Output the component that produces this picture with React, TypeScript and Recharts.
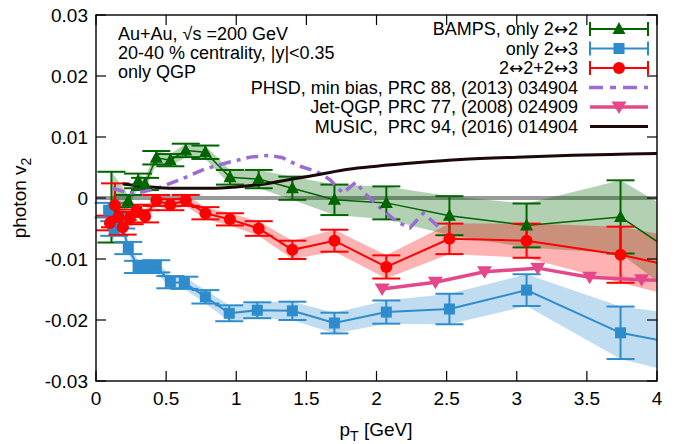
import {
  Area,
  ComposedChart,
  ErrorBar,
  Line,
  ReferenceArea,
  ReferenceLine,
  XAxis,
  YAxis,
} from "recharts";

const W = 698;
const H = 444;
const LEFT = 96;
const RIGHT = 657;
const TOP = 15;
const BOTTOM = 381;
const FONT = "'Liberation Sans', Arial, Helvetica, sans-serif";
const ARROW_FONT = "'DejaVu Sans', sans-serif";

const xTicks = [0, 0.5, 1, 1.5, 2, 2.5, 3, 3.5, 4];
const xTickLabels = ["0", "0.5", "1", "1.5", "2", "2.5", "3", "3.5", "4"];
const yTicks = [-0.03, -0.02, -0.01, 0, 0.01, 0.02, 0.03];
const yTickLabels = ["-0.03", "-0.02", "-0.01", "0", "0.01", "0.02", "0.03"];

// BAMPS, only 2<->2
const bampsPt = [0.11, 0.23, 0.3, 0.35, 0.43, 0.53, 0.64, 0.78, 0.955, 1.16, 1.4, 1.7, 2.07, 2.52, 3.07, 3.74, 4.25];
const bampsV2 = [-0.0015, -0.0005, 0.0028, 0.0023, 0.0066, 0.0062, 0.0078, 0.0075, 0.0034, 0.0031, 0.0016, -0.0003, -0.0008, -0.0029, -0.0045, -0.0031, -0.011];
const bampsErr = [0.0058, 0.001, 0.0012, 0.001, 0.0011, 0.001, 0.0011, 0.0011, 0.0012, 0.0015, 0.0019, 0.0025, 0.0027, 0.0032, 0.0036, 0.006, 0.007];

// only 2<->3
const only23Pt = [0.09, 0.13, 0.18, 0.23, 0.3, 0.36, 0.43, 0.53, 0.63, 0.78, 0.95, 1.15, 1.4, 1.7, 2.07, 2.52, 3.07, 3.74, 4.25];
const only23V2 = [-0.002, -0.005, -0.0038, -0.0082, -0.0113, -0.0113, -0.0112, -0.0138, -0.0139, -0.0162, -0.0189, -0.0184, -0.0185, -0.0205, -0.0187, -0.0182, -0.0151, -0.0221, -0.0243];
const only23Err = [0.0012, 0.0012, 0.0012, 0.001, 0.001, 0.001, 0.001, 0.001, 0.001, 0.0011, 0.0013, 0.0013, 0.0015, 0.0017, 0.0019, 0.0025, 0.0026, 0.0043, 0.005];

// 2<->2 + 2<->3
const allPt = [0.1, 0.135, 0.16, 0.19, 0.24, 0.29, 0.35, 0.43, 0.53, 0.64, 0.78, 0.955, 1.16, 1.4, 1.7, 2.07, 2.52, 3.07, 3.74, 4.25];
const allV2 = [-0.0041, -0.0012, -0.0031, -0.0048, -0.0033, -0.0021, -0.003, -0.0004, -0.0011, -0.0004, -0.0025, -0.0035, -0.005, -0.0085, -0.007, -0.0113, -0.0067, -0.007, -0.0093, -0.0119];
const allErr = [0.0012, 0.0036, 0.0012, 0.0012, 0.001, 0.001, 0.001, 0.0009, 0.0009, 0.0009, 0.001, 0.001, 0.0012, 0.0015, 0.0018, 0.0019, 0.0025, 0.0028, 0.0046, 0.005];

// PHSD, min bias
const phsdPt = [0.12, 0.23, 0.33, 0.44, 0.6, 0.78, 0.955, 1.1, 1.24, 1.33, 1.455, 1.576, 1.668, 1.761, 1.854, 1.918, 2.025, 2.146, 2.239, 2.332, 2.403, 2.453];
const phsdV2 = [0.0016, 0.0008, 0.001, 0.0016, 0.003, 0.0048, 0.0059, 0.0067, 0.007, 0.0066, 0.0052, 0.0043, 0.003, 0.0008, 0.0026, 0.0007, -0.0016, -0.0039, -0.0049, -0.0025, -0.0039, -0.005];

// Jet-QGP
const jetPt = [2.04, 2.42, 2.77, 3.15, 3.52, 3.89, 4.26];
const jetV2 = [-0.0149, -0.0138, -0.0121, -0.0115, -0.013, -0.0134, -0.0137];

// MUSIC
const musicPt = [0.19, 0.3, 0.45, 0.6, 0.8, 1.0, 1.2, 1.4, 1.6, 1.8, 2.0, 2.3, 2.6, 3.0, 3.4, 3.8, 4.0];
const musicV2 = [0.0023, 0.002, 0.0017, 0.0016, 0.0016, 0.0018, 0.0023, 0.0031, 0.0039, 0.0047, 0.0052, 0.0058, 0.0063, 0.0067, 0.007, 0.0072, 0.0073];

const GREEN = "#006400";
const BLUE = "#2f8ccc";
const RED = "#ff0000";
const PINK = "#e4488a";
const PURPLE = "#9b6bd6";
const DARK = "#1c0808";

// band = value +- error; error bars only drawn for points inside the x range
const withErr = (pt: number[], v2: number[], err: number[]) =>
  pt.map((x, i) => ({
    x,
    y: v2[i],
    bar: x <= 4 ? err[i] : null,
    band: [v2[i] - err[i], v2[i] + err[i]],
  }));
const plain = (pt: number[], v2: number[]) => pt.map((x, i) => ({ x, y: v2[i] }));

const bampsData = withErr(bampsPt, bampsV2, bampsErr);
const only23Data = withErr(only23Pt, only23V2, only23Err);
const allData = withErr(allPt, allV2, allErr);
const phsdData = plain(phsdPt, phsdV2);
const jetData = plain(jetPt, jetV2);
const musicData = plain(musicPt, musicV2);

type Kind = "tri" | "square" | "circle" | "down";

function Marker({ kind, cx, cy, color }: { kind: Kind; cx: number; cy: number; color: string }) {
  if (kind === "tri")
    return <polygon points={`${cx},${cy - 7} ${cx - 6.5},${cy + 5} ${cx + 6.5},${cy + 5}`} fill={color} stroke="none" />;
  if (kind === "square") return <rect x={cx - 5.5} y={cy - 5.5} width={11} height={11} fill={color} stroke="none" />;
  if (kind === "circle") return <circle cx={cx} cy={cy} r={6} fill={color} stroke="none" />;
  return <polygon points={`${cx - 7.5},${cy - 5.5} ${cx + 7.5},${cy - 5.5} ${cx},${cy + 7}`} fill={color} stroke="none" />;
}

const makeDot = (kind: Kind, color: string) => (p: any) => {
  const { cx, cy, index } = p;
  if (cx == null || cy == null) return <g key={`${kind}-${index}`} />;
  return (
    <g key={`${kind}-${index}`}>
      <Marker kind={kind} cx={cx} cy={cy} color={color} />
    </g>
  );
};

function YTick(props: any) {
  const { y, index } = props;
  return (
    <g>
      <line x1={LEFT} x2={LEFT + 10} y1={y} y2={y} stroke="#000" strokeWidth={1.2} />
      <line x1={RIGHT - 10} x2={RIGHT} y1={y} y2={y} stroke="#000" strokeWidth={1.2} />
      <text x={LEFT - 8} y={y} dy="0.36em" textAnchor="end" fontSize={19} fontFamily={FONT} fill="#000">
        {yTickLabels[index]}
      </text>
    </g>
  );
}

function XTick(props: any) {
  const { x, index } = props;
  return (
    <g>
      <line x1={x} x2={x} y1={BOTTOM} y2={BOTTOM - 10} stroke="#000" strokeWidth={1.2} />
      <line x1={x} x2={x} y1={TOP} y2={TOP + 10} stroke="#000" strokeWidth={1.2} />
      <text x={x} y={405} textAnchor="middle" fontSize={19} fontFamily={FONT} fill="#000">
        {xTickLabels[index]}
      </text>
    </g>
  );
}

// labels split at the arrow so the arrow can come from a font with a wide glyph
const legendLabels: string[][] = [
  ["BAMPS, only 2", "\u2194", "2"],
  ["only 2", "\u2194", "3"],
  ["2", "\u2194", "2+2", "\u2194", "3"],
  ["PHSD, min bias, PRC 88, (2013) 034904"],
  ["Jet-QGP, PRC 77, (2008) 024909"],
  ["MUSIC,\u00A0 PRC 94, (2016) 014904"],
];

function ErrSample({ y, color, kind }: { y: number; color: string; kind: Kind }) {
  return (
    <g stroke={color} strokeWidth={2}>
      <line x1={590} x2={648} y1={y} y2={y} />
      <line x1={590} x2={590} y1={y - 7} y2={y + 7} />
      <line x1={648} x2={648} y1={y - 7} y2={y + 7} />
      <Marker kind={kind} cx={619} cy={y} color={color} />
    </g>
  );
}

function Overlay() {
  const rowY = (i: number) => 29 + i * 19.5;
  return (
    <svg
      width={W}
      height={H}
      style={{ position: "absolute", left: 0, top: 0, pointerEvents: "none" }}
      fontFamily={FONT}
    >
      <g fontSize={18} fill="#000">
        <text x={118} y={40}>Au+Au, {"\u221A"}s =200 GeV</text>
        <text x={118} y={59}>20-40 % centrality, |y|&lt;0.35</text>
        <text x={118} y={78}>only QGP</text>
      </g>
      <g fontSize={18} fill="#000" textAnchor="end">
        {legendLabels.map((parts, i) => (
          <text key={i} x={578} y={rowY(i)} dy="0.35em">
            {parts.map((s, j) =>
              s === "\u2194" ? (
                <tspan key={j} fontFamily={ARROW_FONT} fontSize={17}>
                  {s}
                </tspan>
              ) : (
                <tspan key={j}>{s}</tspan>
              )
            )}
          </text>
        ))}
      </g>
      <ErrSample y={rowY(0)} color={GREEN} kind="tri" />
      <ErrSample y={rowY(1)} color={BLUE} kind="square" />
      <ErrSample y={rowY(2)} color={RED} kind="circle" />
      <line x1={589} x2={648} y1={rowY(3)} y2={rowY(3)} stroke={PURPLE} strokeWidth={3.5} strokeDasharray="14 7 6 7" />
      <line x1={590} x2={648} y1={rowY(4)} y2={rowY(4)} stroke={PINK} strokeWidth={3.5} />
      <Marker kind="down" cx={619} cy={rowY(4)} color={PINK} />
      <line x1={590} x2={648} y1={rowY(5)} y2={rowY(5)} stroke={DARK} strokeWidth={3} />
      <text x={26} y={198} fontSize={19} textAnchor="middle" transform="rotate(-90 26 198)">
        photon v<tspan dy={5} fontSize={14}>2</tspan>
      </text>
      <text x={376} y={436} fontSize={19} textAnchor="middle">
        p<tspan dy={5} fontSize={14}>T</tspan>
        <tspan dy={-5}> [GeV]</tspan>
      </text>
    </svg>
  );
}

export default function App() {
  return (
    <div style={{ position: "absolute", left: 0, top: 0, width: W, height: H, background: "#fff" }}>
      <ComposedChart width={W} height={H} margin={{ top: TOP, right: W - RIGHT, bottom: 33, left: 36 }}>
        <XAxis
          type="number"
          dataKey="x"
          domain={[0, 4]}
          ticks={xTicks}
          interval={0}
          allowDataOverflow
          axisLine={false}
          tickLine={false}
          height={30}
          tick={<XTick />}
        />
        <YAxis
          type="number"
          domain={[-0.03, 0.03]}
          ticks={yTicks}
          interval={0}
          allowDataOverflow
          axisLine={false}
          tickLine={false}
          width={60}
          tick={<YTick />}
        />
        <ReferenceLine y={0} stroke="#999999" strokeWidth={4} zIndex={50} />
        <Area data={bampsData} dataKey="band" type="linear" stroke="none" fill={GREEN} fillOpacity={0.3} isAnimationActive={false} activeDot={false} />
        <Area data={only23Data} dataKey="band" type="linear" stroke="none" fill={BLUE} fillOpacity={0.3} isAnimationActive={false} activeDot={false} />
        <Area data={allData} dataKey="band" type="linear" stroke="none" fill={RED} fillOpacity={0.3} isAnimationActive={false} activeDot={false} />
        <Line data={bampsData} dataKey="y" type="linear" stroke={GREEN} strokeWidth={1.5} dot={makeDot("tri", GREEN)} activeDot={false} isAnimationActive={false}>
          <ErrorBar dataKey="bar" width={14} stroke={GREEN} strokeWidth={2} direction="y" />
        </Line>
        <Line data={only23Data} dataKey="y" type="linear" stroke={BLUE} strokeWidth={2} dot={makeDot("square", BLUE)} activeDot={false} isAnimationActive={false}>
          <ErrorBar dataKey="bar" width={14} stroke={BLUE} strokeWidth={2} direction="y" />
        </Line>
        <Line data={allData} dataKey="y" type="linear" stroke={RED} strokeWidth={2} dot={makeDot("circle", RED)} activeDot={false} isAnimationActive={false}>
          <ErrorBar dataKey="bar" width={14} stroke={RED} strokeWidth={2} direction="y" />
        </Line>
        <Line data={phsdData} dataKey="y" type="linear" stroke={PURPLE} strokeWidth={3.5} strokeDasharray="12 6 4 6" dot={false} activeDot={false} isAnimationActive={false} />
        <Line data={jetData} dataKey="y" type="linear" stroke={PINK} strokeWidth={3.5} dot={makeDot("down", PINK)} activeDot={false} isAnimationActive={false} />
        <Line data={musicData} dataKey="y" type="monotone" stroke={DARK} strokeWidth={3} dot={false} activeDot={false} isAnimationActive={false} />
        <ReferenceArea x1={0} x2={4} y1={-0.03} y2={0.03} fill="none" stroke="#111" strokeWidth={1.5} zIndex={900} />
      </ComposedChart>
      <Overlay />
    </div>
  );
}
